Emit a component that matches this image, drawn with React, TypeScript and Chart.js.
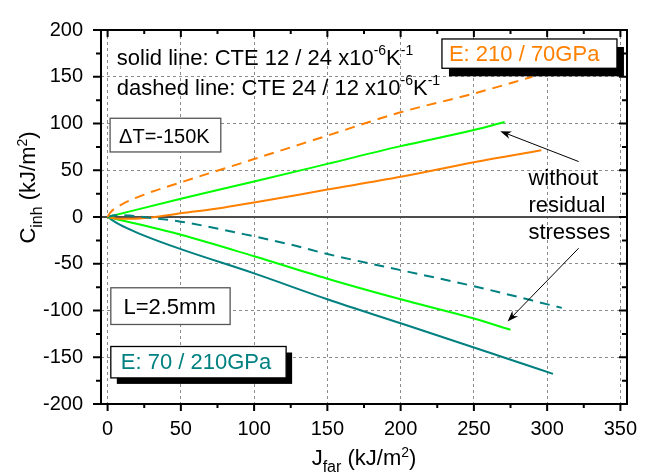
import React, { useEffect, useRef } from 'react';
import { Chart, registerables } from 'chart.js';

Chart.register(...registerables);

const FONT = '"Liberation Sans", Arial, Helvetica, sans-serif';

// ---- data (J_far in kJ/m^2 -> C_inh in kJ/m^2) ----
const orangeSolidX = [0, 5, 15, 30, 50, 75, 100, 150, 200, 250, 296];
const orangeSolidY = [0, -1.5, -2, -0.5, 4, 9, 15.5, 29.3, 43, 58.6, 71.3];
const orangeDashedX = [0, 2, 8, 25, 50, 100, 150, 200, 250, 290];
const orangeDashedY = [0, 5, 12, 24, 37, 62, 87, 112, 132, 150];
const greenUpperX = [0, 50, 100, 150, 200, 250, 271];
const greenUpperY = [0, 19.6, 37.9, 56.8, 75.8, 93, 101.6];
const greenLowerX = [0, 50, 100, 150, 200, 250, 275];
const greenLowerY = [0, -19, -42, -66, -88, -108.5, -120.6];
const tealSolidX = [0, 8, 22, 50, 100, 150, 200, 250, 270, 304];
const tealSolidY = [0, -8, -18, -34.4, -60.3, -88, -113.7, -139.5, -150, -167.8];
const tealDashedX = [0, 5, 15, 30, 50, 100, 127, 150, 200, 250, 310];
const tealDashedY = [0, 2, 1.5, -1, -5, -20.7, -30.3, -39.6, -56.8, -74, -97.2];

const xTickValues = [0, 50, 100, 150, 200, 250, 300, 350];
const yTickValues = [-200, -150, -100, -50, 0, 50, 100, 150, 200];
const xMinorValues = [25, 75, 125, 175, 225, 275, 325];
const yMinorValues = [-175, -125, -75, -25, 25, 75, 125, 175];

const ORANGE = '#FF8000';
const GREEN = '#00FF00';
const TEAL = '#008080';

const pts = (xs: number[], ys: number[]) => xs.map((x, i) => ({ x, y: ys[i] }));

type Seg = { t: string; size: number; dy?: number };

function measure(ctx: CanvasRenderingContext2D, segs: Seg[]) {
  let w = 0;
  for (const s of segs) {
    ctx.font = `${s.size}px ${FONT}`;
    w += ctx.measureText(s.t).width;
  }
  return w;
}

function rich(ctx: CanvasRenderingContext2D, segs: Seg[], x: number, y: number, color: string, align: 'left' | 'center' = 'left') {
  const total = measure(ctx, segs);
  let cx = align === 'center' ? x - total / 2 : x;
  ctx.save();
  ctx.fillStyle = color;
  ctx.textAlign = 'left';
  ctx.textBaseline = 'alphabetic';
  for (const s of segs) {
    ctx.font = `${s.size}px ${FONT}`;
    ctx.fillText(s.t, cx, y + (s.dy || 0));
    cx += ctx.measureText(s.t).width;
  }
  ctx.restore();
}

function box(ctx: CanvasRenderingContext2D, l: number, t: number, w: number, h: number, border: string, shadow: number[] | null) {
  ctx.save();
  if (shadow) {
    ctx.fillStyle = '#000';
    ctx.fillRect(l + shadow[0], t + shadow[1], w, h);
  }
  ctx.fillStyle = '#fff';
  ctx.fillRect(l, t, w, h);
  ctx.strokeStyle = border;
  ctx.lineWidth = 1.3;
  ctx.strokeRect(l, t, w, h);
  ctx.restore();
}

function arrow(ctx: CanvasRenderingContext2D, x1: number, y1: number, x2: number, y2: number) {
  const ang = Math.atan2(y2 - y1, x2 - x1);
  const len = 11, half = 4;
  ctx.save();
  ctx.strokeStyle = '#000';
  ctx.fillStyle = '#000';
  ctx.lineWidth = 1;
  ctx.beginPath();
  ctx.moveTo(x1, y1);
  ctx.lineTo(x2 - Math.cos(ang) * len * 0.6, y2 - Math.sin(ang) * len * 0.6);
  ctx.stroke();
  ctx.beginPath();
  ctx.moveTo(x2, y2);
  ctx.lineTo(x2 - Math.cos(ang) * len - Math.sin(ang) * half, y2 - Math.sin(ang) * len + Math.cos(ang) * half);
  ctx.lineTo(x2 - Math.cos(ang) * len * 0.7, y2 - Math.sin(ang) * len * 0.7);
  ctx.lineTo(x2 - Math.cos(ang) * len + Math.sin(ang) * half, y2 - Math.sin(ang) * len - Math.cos(ang) * half);
  ctx.closePath();
  ctx.fill();
  ctx.restore();
}

const decor = {
  id: 'decor',
  beforeDatasetsDraw(chart: any) {
    const { ctx, chartArea: a, scales } = chart;
    const y0 = scales.y.getPixelForValue(0);
    ctx.save();
    ctx.strokeStyle = '#4d4d4d';
    ctx.lineWidth = 2;
    ctx.beginPath();
    ctx.moveTo(a.left, y0);
    ctx.lineTo(a.right, y0);
    ctx.stroke();
    ctx.restore();
  },
  afterDraw(chart: any) {
    const { ctx, chartArea: a, scales } = chart;
    const X = (v: number) => scales.x.getPixelForValue(v);
    const Y = (v: number) => scales.y.getPixelForValue(v);

    // frame
    ctx.save();
    ctx.strokeStyle = '#000';
    ctx.lineWidth = 2;
    ctx.strokeRect(a.left, a.top, a.right - a.left, a.bottom - a.top);
    // ticks
    ctx.lineWidth = 2;
    ctx.beginPath();
    for (const v of xTickValues) {
      const p = X(v);
      ctx.moveTo(p, a.bottom); ctx.lineTo(p, a.bottom + 7);
      ctx.moveTo(p, a.top); ctx.lineTo(p, a.top + 7);
    }
    for (const v of xMinorValues) {
      const p = X(v);
      ctx.moveTo(p, a.bottom); ctx.lineTo(p, a.bottom + 4);
      ctx.moveTo(p, a.top); ctx.lineTo(p, a.top + 4);
    }
    for (const v of yTickValues) {
      const p = Y(v);
      ctx.moveTo(a.left, p); ctx.lineTo(a.left - 8, p);
      ctx.moveTo(a.right, p); ctx.lineTo(a.right - 8, p);
    }
    for (const v of yMinorValues) {
      const p = Y(v);
      ctx.moveTo(a.left, p); ctx.lineTo(a.left - 5, p);
      ctx.moveTo(a.right, p); ctx.lineTo(a.right - 5, p);
    }
    ctx.stroke();
    ctx.restore();

    // axis titles
    rich(ctx, [
      { t: 'J', size: 22 },
      { t: 'far', size: 16, dy: 7 },
      { t: ' (kJ/m', size: 22 },
      { t: '2', size: 14, dy: -8 },
      { t: ')', size: 22 },
    ], (a.left + a.right) / 2, 465, '#000', 'center');

    ctx.save();
    ctx.translate(35, 187.5);
    ctx.rotate(-Math.PI / 2);
    rich(ctx, [
      { t: 'C', size: 22 },
      { t: 'inh', size: 16, dy: 7 },
      { t: ' (kJ/m', size: 22 },
      { t: '2', size: 14, dy: -8 },
      { t: ')', size: 22 },
    ], 0, 0, '#000', 'center');
    ctx.restore();

    // CTE notes
    rich(ctx, [
      { t: 'solid line: CTE 12 / 24 x10', size: 22 },
      { t: '-6', size: 14, dy: -10 },
      { t: 'K', size: 22 },
      { t: '-1', size: 14, dy: -10 },
    ], X(6.3), Y(162.3), '#000');
    rich(ctx, [
      { t: 'dashed line: CTE 24 / 12 x10', size: 22 },
      { t: '-6', size: 14, dy: -10 },
      { t: 'K', size: 22 },
      { t: '-1', size: 14, dy: -10 },
    ], X(6.3), Y(130.4), '#000');

    // E: 210 / 70GPa box
    {
      const l = X(228.2), t = Y(190.4);
      box(ctx, l, t, 175, 29.3, '#000', [7, 8]);
      rich(ctx, [{ t: 'E: 210 / 70GPa', size: 22 }], l + 7, t + 22.3, ORANGE);
    }
    // Delta T box
    {
      const l = X(1.7), t = Y(105.6);
      box(ctx, l, t, 110.7, 33.7, '#555', null);
      rich(ctx, [{ t: '\u0394T=-150K', size: 20 }], l + 9, t + 25, '#000');
    }
    // L box
    {
      const l = X(2.2), t = Y(-75.7);
      box(ctx, l, t, 119.3, 36.7, '#555', null);
      rich(ctx, [{ t: 'L=2.5mm', size: 22 }], l + 12.6, t + 26.7, '#000');
    }
    // E: 70 / 210GPa box
    {
      const l = X(2.2), t = Y(-138.5);
      box(ctx, l, t, 175.3, 31.4, '#000', [6, 6]);
      rich(ctx, [{ t: 'E: 70 / 210GPa', size: 22 }], l + 10, t + 23, TEAL);
    }

    // without residual stresses
    const wx = X(287.2), wy = Y(34.1);
    rich(ctx, [{ t: 'without', size: 22 }], wx, wy, '#000');
    rich(ctx, [{ t: 'residual', size: 22 }], wx, wy + 26.7, '#000');
    rich(ctx, [{ t: 'stresses', size: 22 }], wx, wy + 53.4, '#000');

    arrow(ctx, X(321.5), Y(59.3), X(268), Y(91.8));
    arrow(ctx, X(321.5), Y(-33.4), X(273), Y(-111.7));
  },
};

export default function App() {
  const ref = useRef<HTMLCanvasElement | null>(null);

  useEffect(() => {
    if (!ref.current) return;
    const mk = (xs: number[], ys: number[], color: string, dashed: boolean) => ({
      data: pts(xs, ys),
      borderColor: color,
      backgroundColor: color,
      borderWidth: 2,
      borderDash: dashed ? [10, 7] : [],
      pointRadius: 0,
      cubicInterpolationMode: 'monotone',
      fill: false,
    });
    const chart = new Chart(ref.current, {
      type: 'line',
      data: {
        datasets: [
          mk(orangeDashedX, orangeDashedY, ORANGE, true),
          mk(tealDashedX, tealDashedY, TEAL, true),
          mk(greenUpperX, greenUpperY, GREEN, false),
          mk(orangeSolidX, orangeSolidY, ORANGE, false),
          mk(greenLowerX, greenLowerY, GREEN, false),
          mk(tealSolidX, tealSolidY, TEAL, false),
        ] as any,
      },
      options: {
        animation: false,
        responsive: true,
        maintainAspectRatio: false,
        layout: { padding: { top: 16, right: 26, left: 0, bottom: 0 } },
        plugins: { legend: { display: false }, tooltip: { enabled: false } },
        scales: {
          x: {
            type: 'linear',
            min: -4.5,
            max: 354.5,
            afterFit: (s: any) => { s.height = 72; },
            afterBuildTicks: (s: any) => { s.ticks = xTickValues.map((v) => ({ value: v })); },
            grid: { color: '#8c8c8c', lineWidth: 1, drawTicks: false },
            border: { display: false, dash: [3, 3] },
            ticks: { color: '#000', font: { family: FONT, size: 20 }, padding: 13, maxRotation: 0, autoSkip: false },
          },
          y: {
            type: 'linear',
            min: -200,
            max: 200,
            afterFit: (s: any) => { s.width = 101; },
            afterBuildTicks: (s: any) => { s.ticks = yTickValues.map((v) => ({ value: v })); },
            grid: { color: '#8c8c8c', lineWidth: 1, drawTicks: false },
            border: { display: false, dash: [3, 3] },
            ticks: { color: '#000', font: { family: FONT, size: 20 }, padding: 18, autoSkip: false },
          },
        },
      } as any,
      plugins: [decor],
    });
    return () => chart.destroy();
  }, []);

  return (
    <div style={{ position: 'fixed', left: 0, top: 0, width: 653, height: 476, background: '#fff' }}>
      <canvas ref={ref} />
    </div>
  );
}
